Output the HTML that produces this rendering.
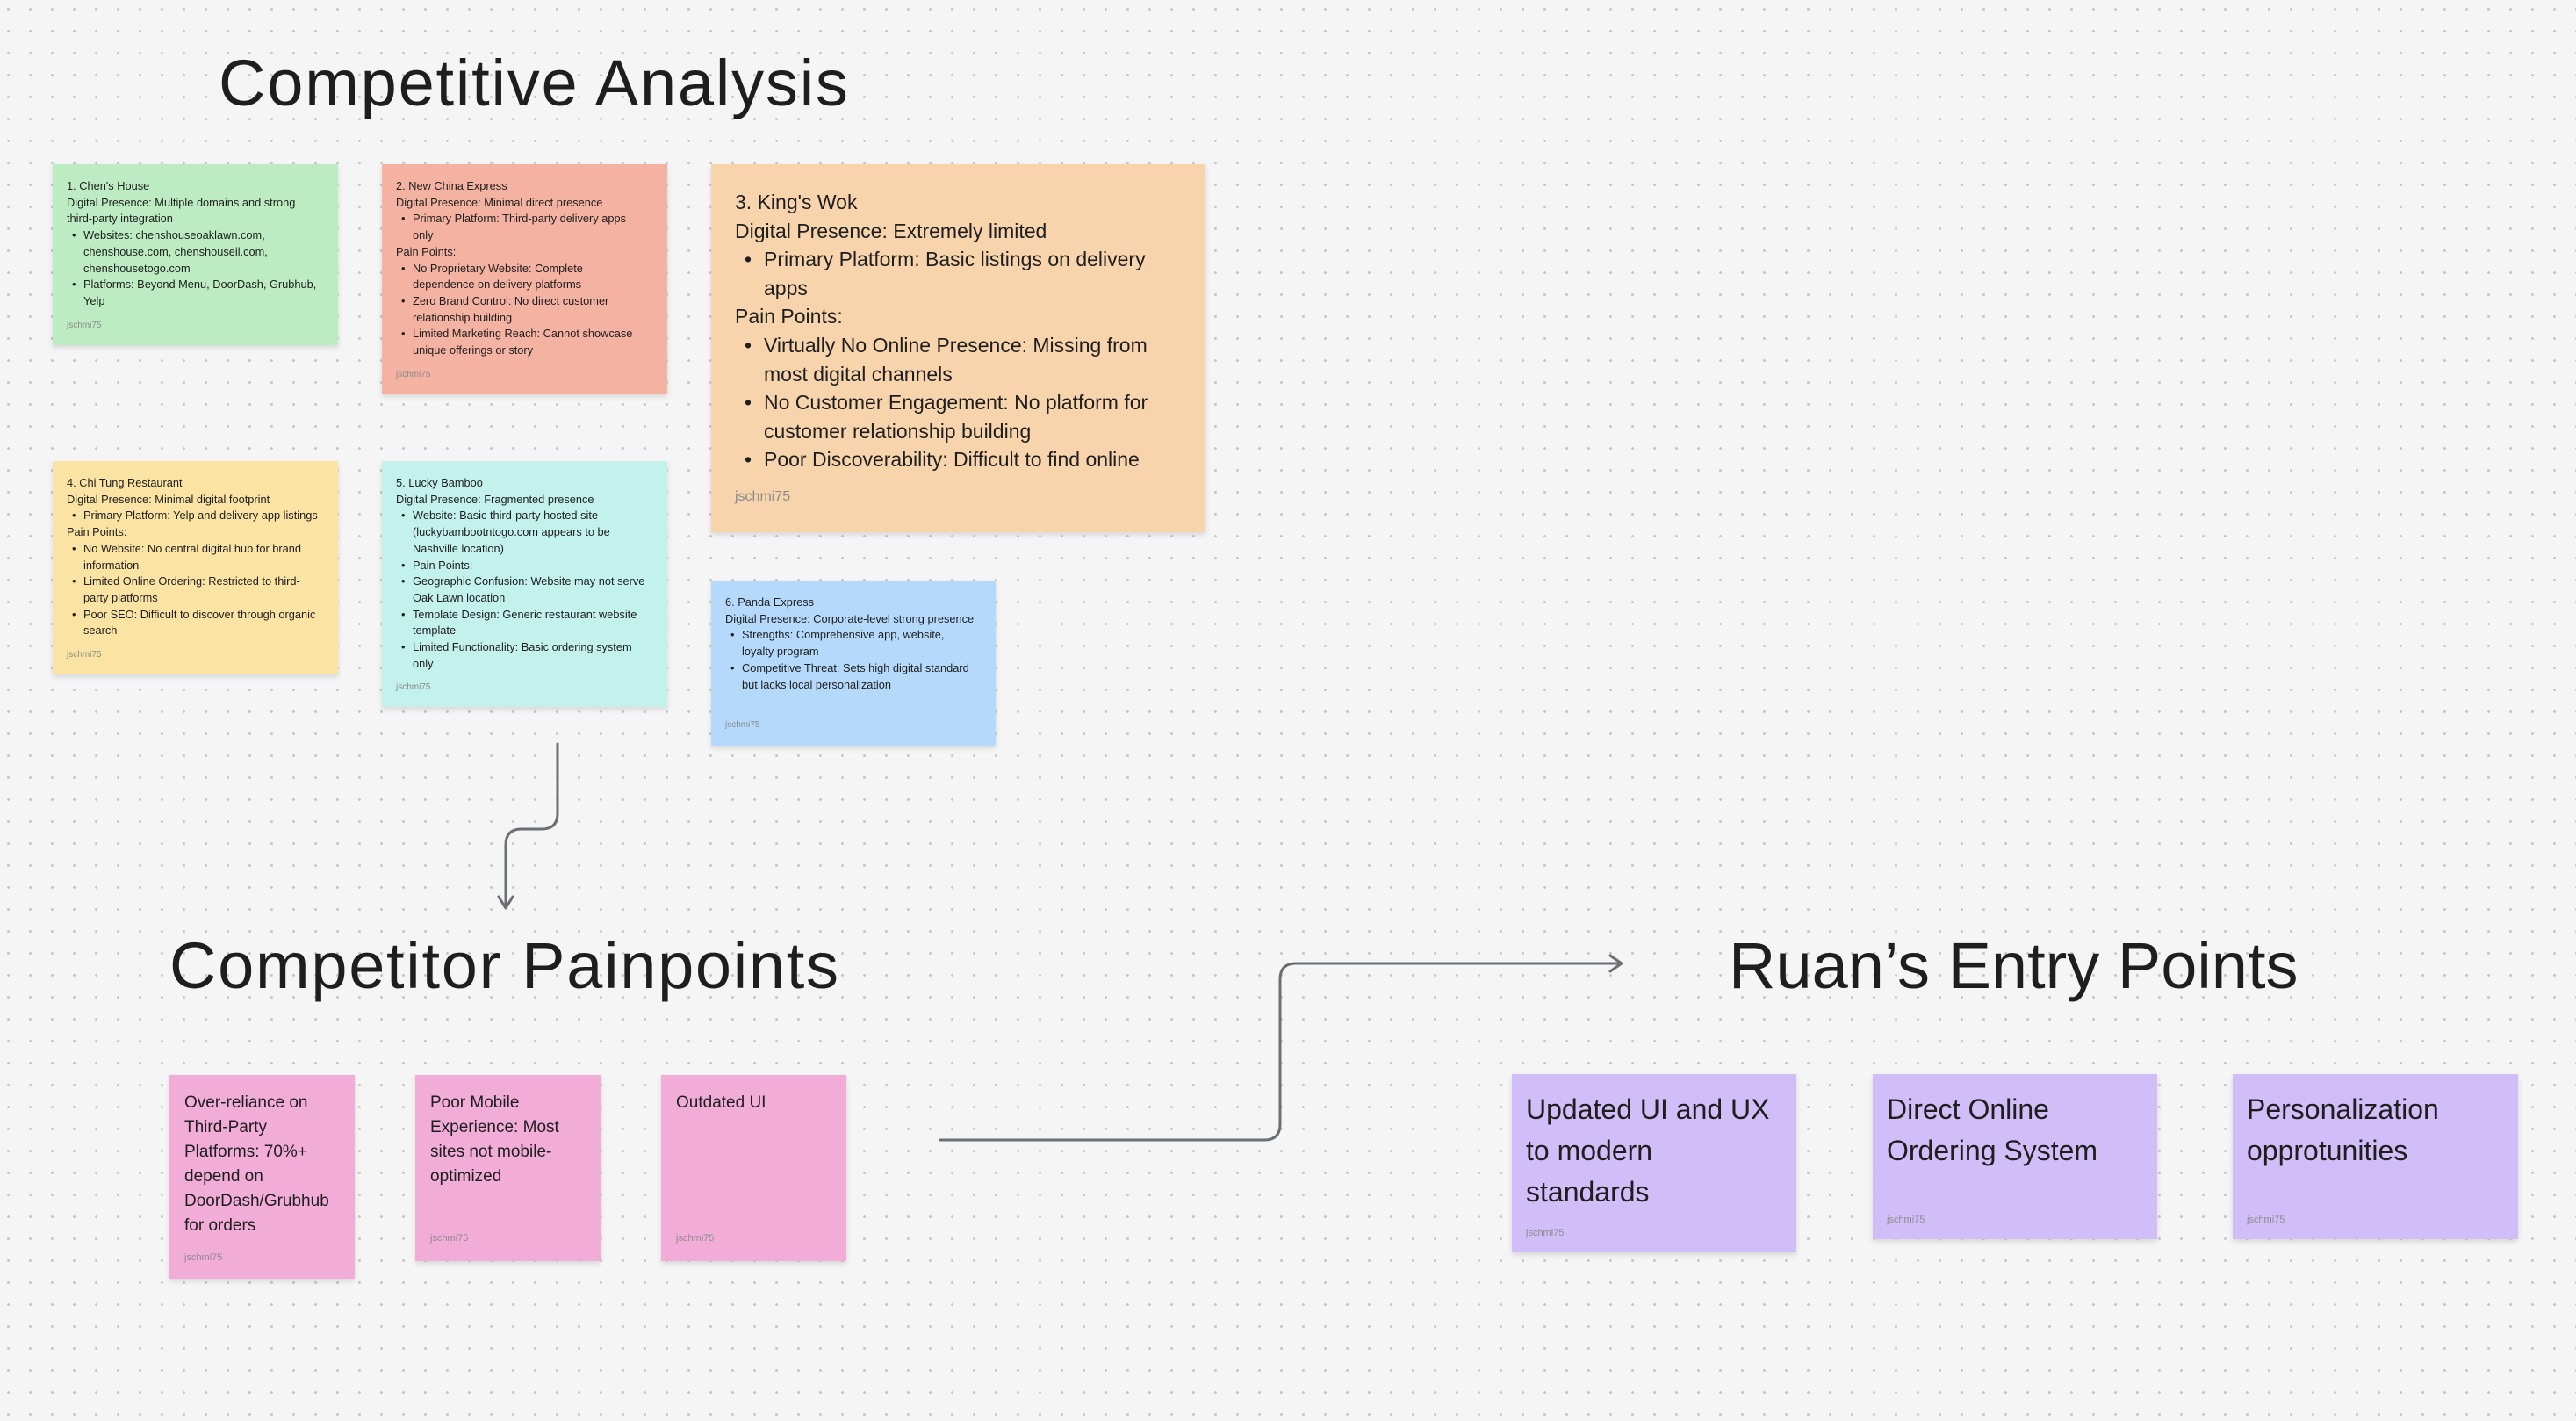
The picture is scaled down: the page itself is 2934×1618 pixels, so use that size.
<!DOCTYPE html>
<html><head><meta charset="utf-8"><style>
*{margin:0;padding:0;box-sizing:border-box}
body{width:2934px;height:1618px;overflow:hidden;background-color:#f5f5f5;
background-image:radial-gradient(circle at 12.5px 12.5px,#c4c4c4 1.2px,transparent 1.8px);
background-size:25px 25px;background-position:-3px -2px;position:relative;
font-family:"Liberation Sans",sans-serif;color:#1e1e1e}
.t{position:absolute;font-size:74px;line-height:1;color:#1e1e1e;white-space:nowrap}
.n{position:absolute;box-shadow:0 3px 6px rgba(0,0,0,0.12)}
.n .c{position:absolute;left:16px;top:16px;font-size:12.8px;line-height:18.7px;white-space:nowrap}
.n ul{list-style:none}
.n li{position:relative;padding-left:19px}
.n li:before{content:"•";position:absolute;left:6px}
.a{position:absolute;left:16px;font-size:10px;color:#8b8b8b}
.big .c{left:27px;top:27px;font-size:23px;line-height:32.6px}
.big li{padding-left:33px}
.big li:before{left:11px}
.p .c{left:17px;top:18px;font-size:19px;line-height:28px}
.p .a{left:17px;font-size:11px}
.u .c{left:16px;top:17px;font-size:32px;line-height:47px}
.u .a{font-size:11px}
</style></head><body>
<div class="t" style="left:249px;top:58px;letter-spacing:1.8px">Competitive Analysis</div>
<div class="t" style="left:193px;top:1063px;letter-spacing:1.7px">Competitor Painpoints</div>
<div class="t" style="left:1969px;top:1063px;letter-spacing:0px">Ruan’s Entry Points</div>

<div class="n" style="left:60px;top:187px;width:325px;height:206px;background:#bdecc3">
<div class="c">1. Chen's House<br>Digital Presence: Multiple domains and strong<br>third-party integration
<ul><li>Websites: chenshouseoaklawn.com,<br>chenshouse.com, chenshouseil.com,<br>chenshousetogo.com</li><li>Platforms: Beyond Menu, DoorDash, Grubhub,<br>Yelp</li></ul></div>
<div class="a" style="top:178px">jschmi75</div></div>

<div class="n" style="left:435px;top:187px;width:325px;height:262px;background:#f4b2a3">
<div class="c">2. New China Express<br>Digital Presence: Minimal direct presence
<ul><li>Primary Platform: Third-party delivery apps<br>only</li></ul>Pain Points:
<ul><li>No Proprietary Website: Complete<br>dependence on delivery platforms</li><li>Zero Brand Control: No direct customer<br>relationship building</li><li>Limited Marketing Reach: Cannot showcase<br>unique offerings or story</li></ul></div>
<div class="a" style="top:234px">jschmi75</div></div>

<div class="n big" style="left:810px;top:187px;width:563px;height:419px;background:#f8d4ad">
<div class="c">3. King's Wok<br>Digital Presence: Extremely limited
<ul><li>Primary Platform: Basic listings on delivery<br>apps</li></ul>Pain Points:
<ul><li>Virtually No Online Presence: Missing from<br>most digital channels</li><li>No Customer Engagement: No platform for<br>customer relationship building</li><li>Poor Discoverability: Difficult to find online</li></ul></div>
<div class="a" style="left:27px;top:370px;font-size:16px">jschmi75</div></div>

<div class="n" style="left:60px;top:525px;width:325px;height:243px;background:#fae3a3">
<div class="c">4. Chi Tung Restaurant<br>Digital Presence: Minimal digital footprint
<ul><li>Primary Platform: Yelp and delivery app listings</li></ul>Pain Points:
<ul><li>No Website: No central digital hub for brand<br>information</li><li>Limited Online Ordering: Restricted to third-<br>party platforms</li><li>Poor SEO: Difficult to discover through organic<br>search</li></ul></div>
<div class="a" style="top:215px">jschmi75</div></div>

<div class="n" style="left:435px;top:525px;width:325px;height:280px;background:#c3f1ec">
<div class="c">5. Lucky Bamboo<br>Digital Presence: Fragmented presence
<ul><li>Website: Basic third-party hosted site<br>(luckybambootntogo.com appears to be<br>Nashville location)</li><li>Pain Points:</li><li>Geographic Confusion: Website may not serve<br>Oak Lawn location</li><li>Template Design: Generic restaurant website<br>template</li><li>Limited Functionality: Basic ordering system<br>only</li></ul></div>
<div class="a" style="top:252px">jschmi75</div></div>

<div class="n" style="left:810px;top:661px;width:324px;height:188px;background:#b5d9fb">
<div class="c">6. Panda Express<br>Digital Presence: Corporate-level strong presence
<ul><li>Strengths: Comprehensive app, website,<br>loyalty program</li><li>Competitive Threat: Sets high digital standard<br>but lacks local personalization</li></ul></div>
<div class="a" style="top:159px">jschmi75</div></div>

<div class="n p" style="left:193px;top:1224px;width:211px;height:232px;background:#f2acd8">
<div class="c">Over-reliance on<br>Third-Party<br>Platforms: 70%+<br>depend on<br>DoorDash/Grubhub<br>for orders</div>
<div class="a" style="top:202px">jschmi75</div></div>
<div class="n p" style="left:473px;top:1224px;width:211px;height:212px;background:#f2acd8">
<div class="c">Poor Mobile<br>Experience: Most<br>sites not mobile-<br>optimized</div>
<div class="a" style="top:180px">jschmi75</div></div>
<div class="n p" style="left:753px;top:1224px;width:211px;height:212px;background:#f2acd8">
<div class="c">Outdated UI</div>
<div class="a" style="top:180px">jschmi75</div></div>

<div class="n u" style="left:1722px;top:1223px;width:324px;height:203px;background:#d1bef8">
<div class="c">Updated UI and UX<br>to modern<br>standards</div>
<div class="a" style="top:175px">jschmi75</div></div>
<div class="n u" style="left:2133px;top:1223px;width:324px;height:188px;background:#d1bef8">
<div class="c">Direct Online<br>Ordering System</div>
<div class="a" style="top:160px">jschmi75</div></div>
<div class="n u" style="left:2543px;top:1223px;width:325px;height:188px;background:#d1bef8">
<div class="c">Personalization<br>opprotunities</div>
<div class="a" style="top:160px">jschmi75</div></div>

<svg style="position:absolute;left:0;top:0" width="2934" height="1618">
<g fill="none" stroke="#6b6f73" stroke-width="3" stroke-linecap="round" stroke-linejoin="round">
<path d="M635 847 V926 Q635 944 617 944 H594 Q576 944 576 962 V1033"/>
<path d="M568 1021 L576 1034 L584 1021"/>
<path d="M1071 1298 H1440 Q1458 1298 1458 1280 V1115 Q1458 1097 1476 1097 H1846"/>
<path d="M1834 1088 L1847 1097 L1834 1106"/>
</g></svg>
</body></html>
